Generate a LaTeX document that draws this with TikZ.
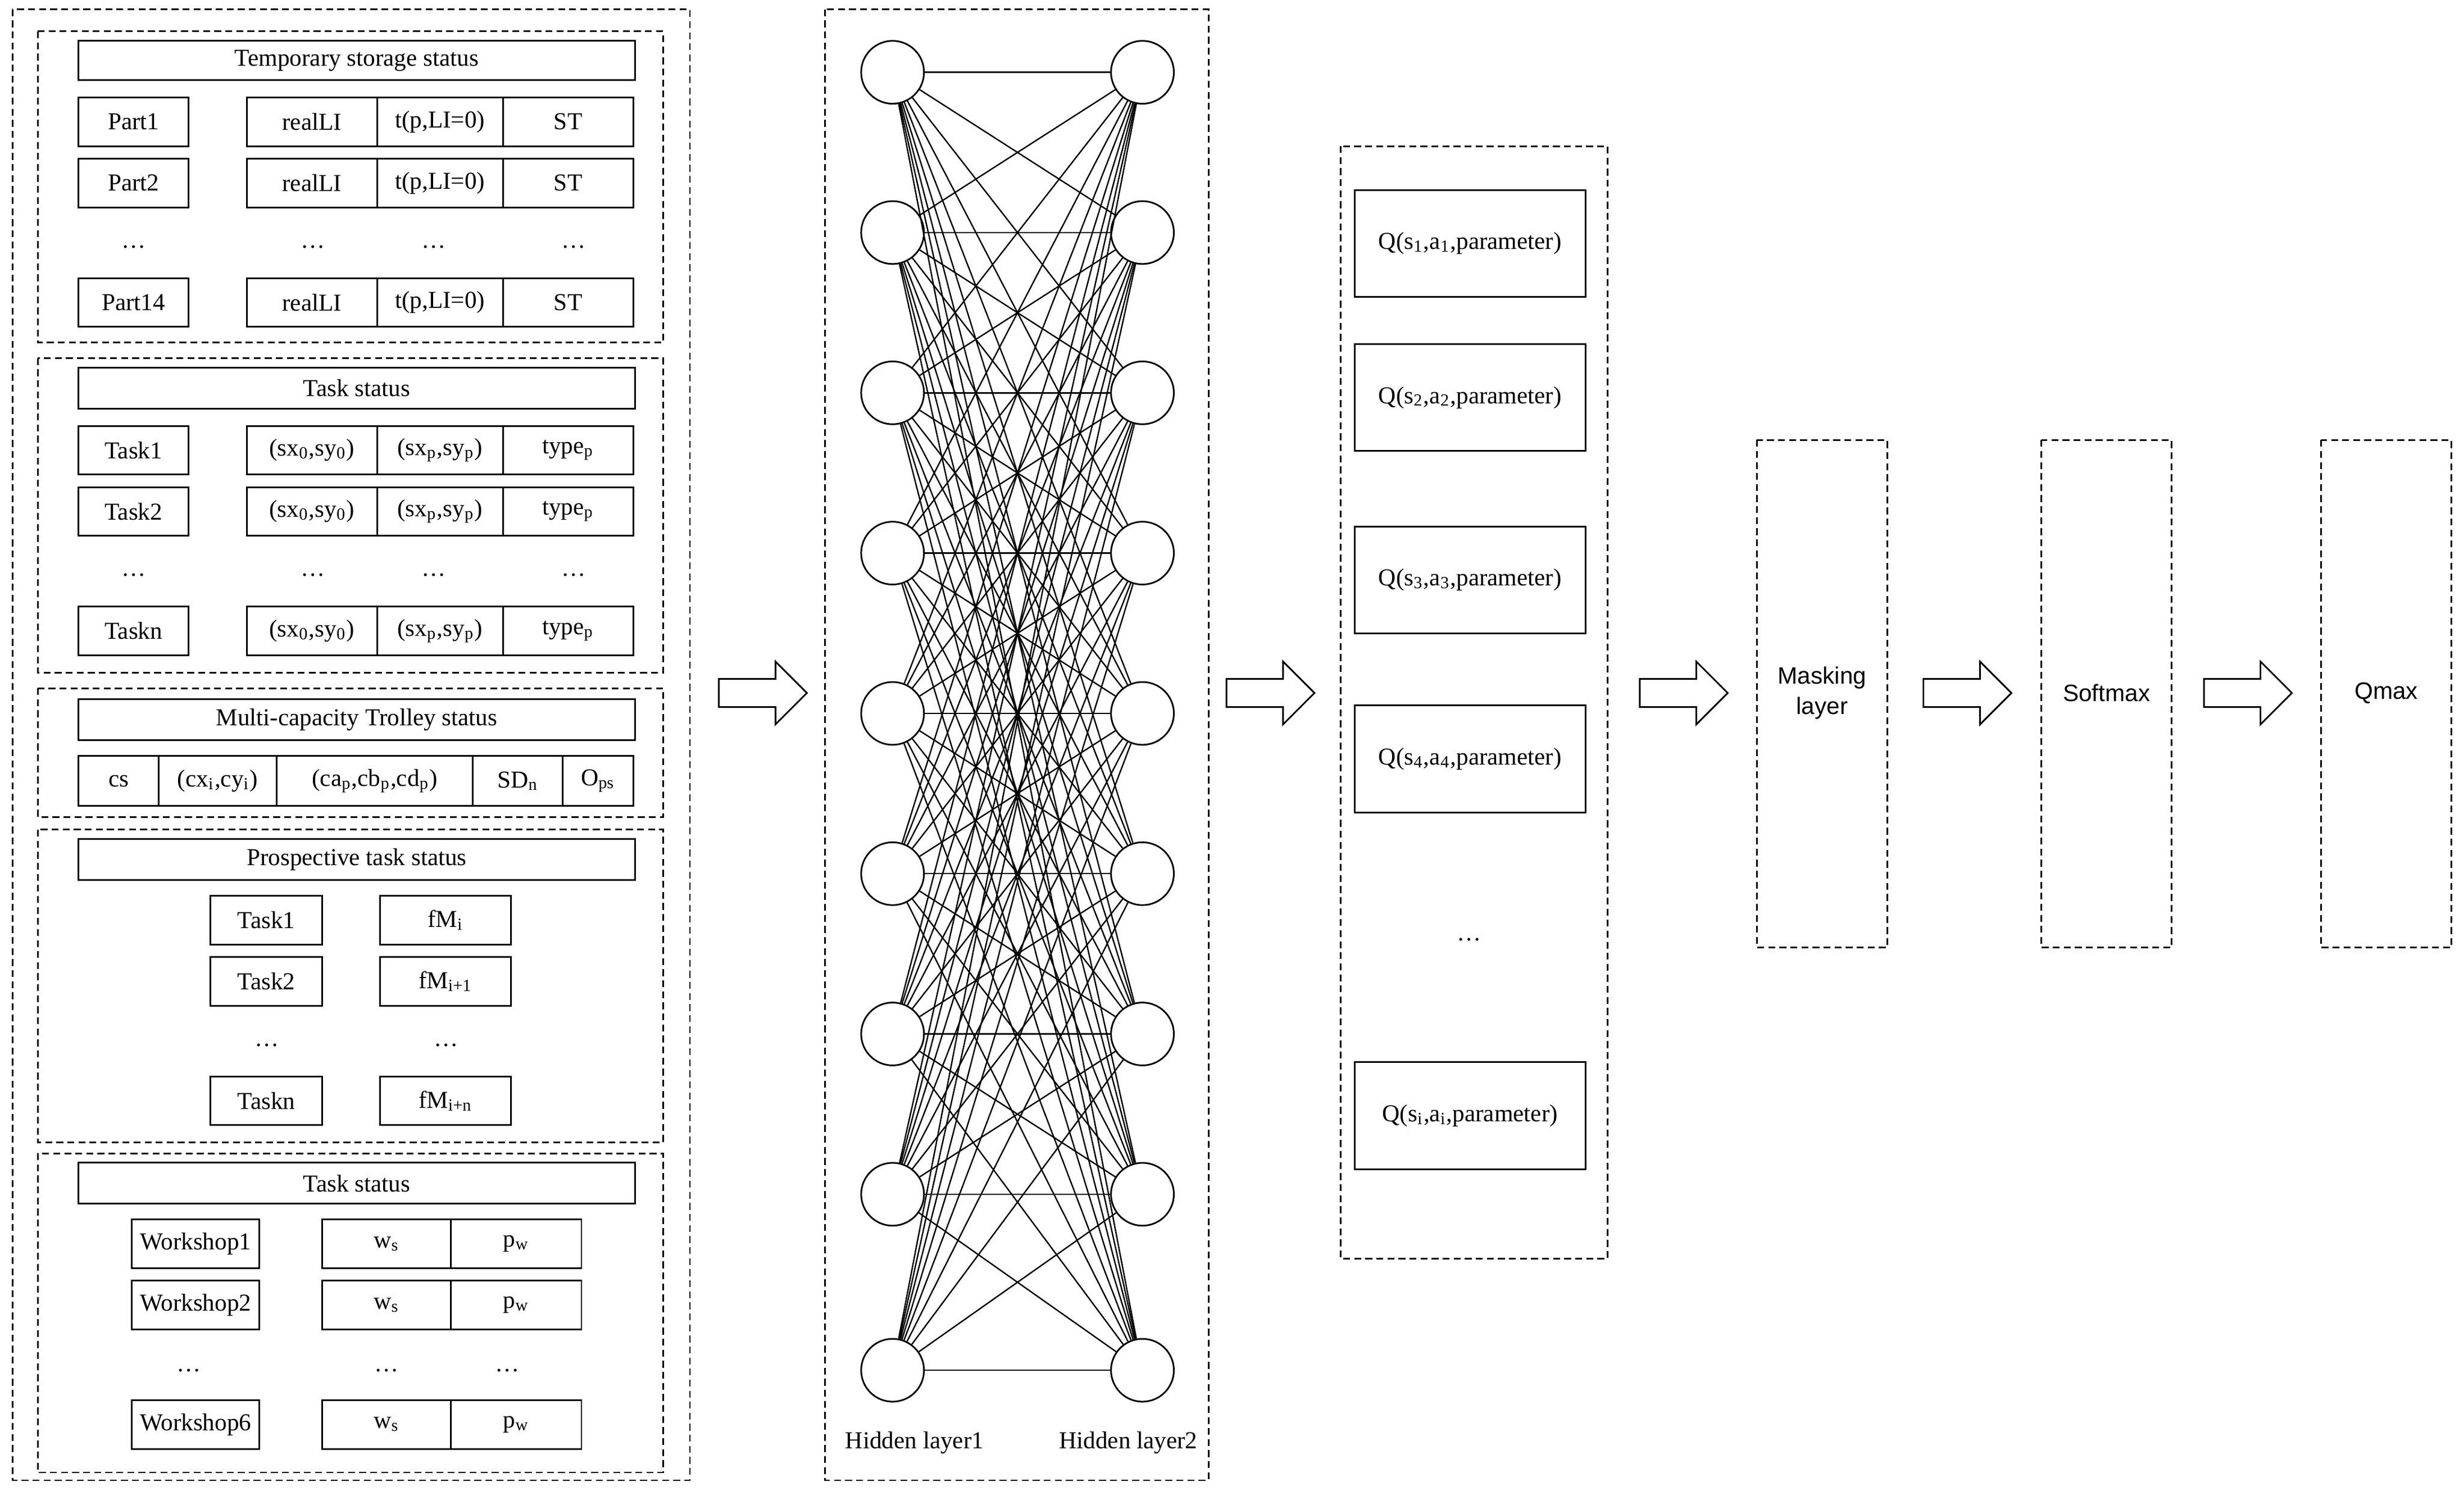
\documentclass[tikz,border=0pt]{standalone}
\usepackage{fontspec}
\setmainfont{Liberation Serif}
\newfontfamily\arialf{Liberation Sans}
\usetikzlibrary{shapes.arrows}
\newcommand\ts[1]{\textsubscript{#1}}
\newcommand\bx[6]{\node[box,minimum width={(#4-#2)*0.02cm},minimum height={(#5-#3)*0.02cm}] (#1) at ({(#2+#4)/2},{(#3+#5)/2}) {#6};}
\newcommand\dt[3]{\node[txt] (#1) at (#2,#3) {\dots};}
\begin{document}
\begin{tikzpicture}[x=0.02cm,y=-0.02cm,line width=0.6pt,
  box/.style={draw,inner sep=0pt,font=\fontsize{8.8}{9}\selectfont},
  txt/.style={inner sep=0pt,font=\fontsize{8.8}{9}\selectfont},
  panel/.style={draw,dash pattern=on 2.5pt off 1.5pt},
  neuron/.style={draw,circle,minimum size=0.8cm,inner sep=0pt},
  blk/.style={draw,single arrow,minimum height=1.12cm,minimum width=0.8cm,single arrow head extend=0.1cm,inner sep=2pt,line width=0.6pt},
  sans/.style={inner sep=0pt,font=\arialf\fontsize{8.6}{11}\selectfont,align=center}]
\useasboundingbox (0,0) rectangle (1568,952);
% left panel
\draw[panel] (8,6) rectangle (439,942);
\draw[panel] (24,20) rectangle (422,218);
\draw[panel] (24,228) rectangle (422,428);
\draw[panel] (24,438) rectangle (422,520);
\draw[panel] (24,528) rectangle (422,727);
\draw[panel] (24,734) rectangle (422,937);
% panel 1
\bx{h1}{50}{26}{404}{51}{Temporary storage status}
\foreach \n/\a/\b/\lab in {1/62/93/Part1,2/101/132/Part2,3/177/208/Part14}{
  \bx{p\n}{50}{\a}{120}{\b}{\lab}
  \bx{pa\n}{157}{\a}{240}{\b}{realLI}
  \bx{pb\n}{240}{\a}{320}{\b}{t(p,LI=0)}
  \bx{pc\n}{320}{\a}{403}{\b}{ST}
}
\dt{d1a}{85}{157}\dt{d1b}{199}{157}\dt{d1c}{276}{157}\dt{d1d}{365}{157}
% panel 2
\bx{h2}{50}{234}{404}{260}{Task status}
\foreach \n/\a/\b/\lab in {1/271/302/Task1,2/310/341/Task2,3/386/417/Taskn}{
  \bx{t\n}{50}{\a}{120}{\b}{\lab}
  \bx{ta\n}{157}{\a}{240}{\b}{(sx\ts{0},sy\ts{0})}
  \bx{tb\n}{240}{\a}{320}{\b}{(sx\ts{p},sy\ts{p})}
  \bx{tc\n}{320}{\a}{403}{\b}{type\ts{p}}
}
\dt{d2a}{85}{366}\dt{d2b}{199}{366}\dt{d2c}{276}{366}\dt{d2d}{365}{366}
% panel 3
\bx{h3}{50}{445}{404}{471}{Multi-capacity Trolley status}
\bx{c1}{50}{481}{101}{513}{cs}
\bx{c2}{101}{481}{176}{513}{(cx\ts{i},cy\ts{i})}
\bx{c3}{176}{481}{301}{513}{(ca\ts{p},cb\ts{p},cd\ts{p})}
\bx{c4}{301}{481}{358}{513}{SD\ts{n}}
\bx{c5}{358}{481}{403}{513}{O\ts{ps}}
% panel 4
\bx{h4}{50}{534}{404}{560}{Prospective task status}
\bx{f1}{134}{570}{205}{601}{Task1}\bx{fa1}{242}{570}{325}{601}{fM\ts{i}}
\bx{f2}{134}{609}{205}{640}{Task2}\bx{fa2}{242}{609}{325}{640}{fM\ts{i+1}}
\bx{f3}{134}{685}{205}{716}{Taskn}\bx{fa3}{242}{685}{325}{716}{fM\ts{i+n}}
\dt{d4a}{170}{665}\dt{d4b}{284}{665}
% panel 5
\bx{h5}{50}{740}{404}{766}{Task status}
\foreach \n/\a/\b/\lab in {1/776/807/Workshop1,2/815/846/Workshop2,3/891/922/Workshop6}{
  \bx{w\n}{84}{\a}{165}{\b}{\lab}
  \bx{wa\n}{205}{\a}{287}{\b}{w\ts{s}}
  \bx{wb\n}{287}{\a}{370}{\b}{p\ts{w}}
}
\dt{d5a}{120}{872}\dt{d5b}{246}{872}\dt{d5c}{323}{872}
% NN
\draw[panel] (525,6) rectangle (769,942);
\foreach \i/\y in {1/46,2/148,3/250,4/352,5/454,6/556,7/658,8/760,9/872}{
  \node[neuron] (nl\i) at (568,\y) {}; \node[neuron] (nr\i) at (727,\y) {};}
\foreach \i in {1,...,9}{\foreach \j in {1,...,9}{\draw[line width=0.5pt] (nl\i) -- (nr\j);}}
\node[txt] (hl1) at (582,918) {Hidden layer1};
\node[txt] (hl2) at (718,918) {Hidden layer2};
% Q panel
\draw[panel] (853,93) rectangle (1023,801);
\bx{q1}{862}{121}{1009}{189}{Q(s\ts{1},a\ts{1},parameter)}
\bx{q2}{862}{219}{1009}{287}{Q(s\ts{2},a\ts{2},parameter)}
\bx{q3}{862}{335}{1009}{403}{Q(s\ts{3},a\ts{3},parameter)}
\bx{q4}{862}{449}{1009}{517}{Q(s\ts{4},a\ts{4},parameter)}
\bx{q5}{862}{676}{1009}{744}{Q(s\ts{i},a\ts{i},parameter)}
\dt{dq}{935}{598}
% right boxes
\draw[panel] (1118,280) rectangle (1201,603);
\draw[panel] (1299,280) rectangle (1382,603);
\draw[panel] (1477,280) rectangle (1560,603);
\node[sans] (mask) at (1159.5,441) {Masking\\layer};
\node[sans] (soft) at (1340.5,441) {Softmax};
\node[sans] (qmax) at (1518.5,441) {Qmax};
% arrows
\foreach \x/\n in {481/a1,804/a2,1067/a3,1247.5/a4,1426/a5}{\node[blk] (\n) at (\x,441) {};}
\end{tikzpicture}
\end{document}
